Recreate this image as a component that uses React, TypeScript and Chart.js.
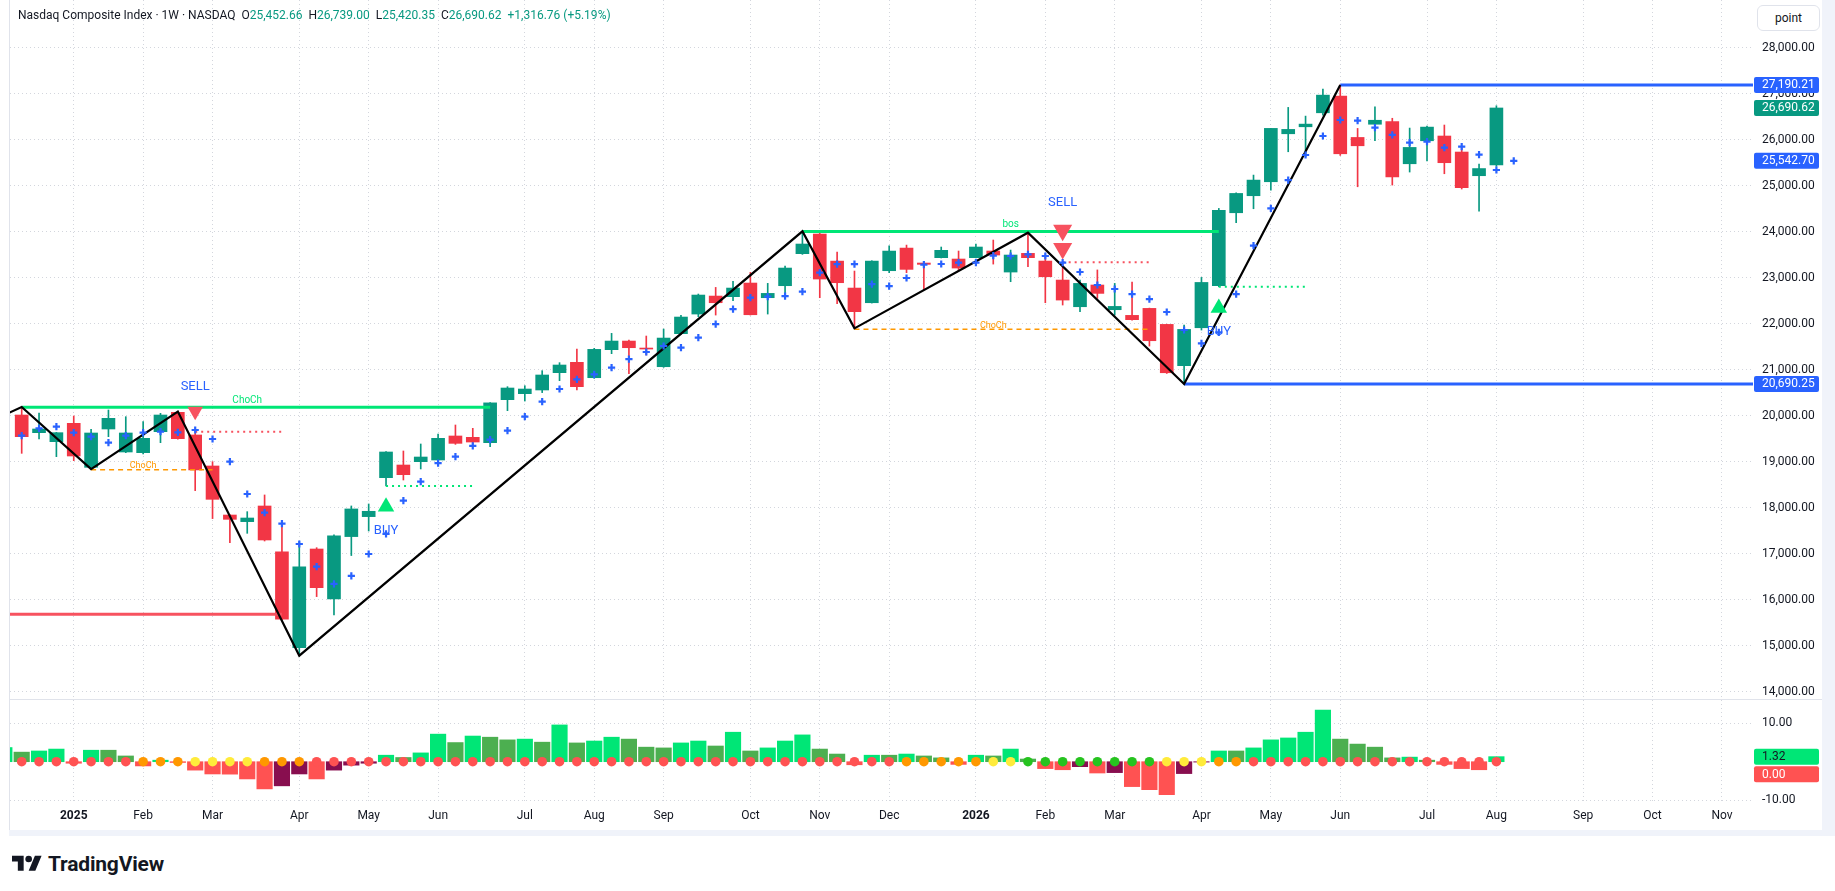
import React, { useEffect, useRef } from 'react';
import { Chart, registerables } from 'chart.js';

Chart.register(...registerables);

const FONT = 'Roboto, "Noto Sans", "DejaVu Sans", sans-serif';
const TEXT = '#131722';
const UP = '#089981';
const DOWN = '#f23645';
const BLUE = '#2962ff';
const LINE_GREEN = '#00e676';
const LINE_RED = '#f7525f';
const ORANGE = '#ff9800';
const GRID = '#d3d6dd';

// ---- weekly candles (index 0 = first visible week) ----
const candleOpen = [
  20016, 19632, 19436, 19835, 18879, 19712, 19212, 19197, 19654, 20074,
  19582, 18908, 17842, 17698, 18038, 17041, 14960, 17103, 16017, 17373,
  17807, 18654, 18929, 19002, 19038, 19560, 19531, 19415, 20350, 20480,
  20560, 20936, 21161, 20827, 21436, 21624, 21472, 21066, 21784, 22211,
  22602, 22588, 22885, 22566, 22827, 23523, 23950, 23362, 22776, 22457,
  23153, 23645, 23320, 23436, 23407, 23436, 23581, 23124, 23530, 23363,
  22950, 22370, 22842, 22305, 22182, 22334, 21986, 21088, 21913, 22826,
  24413, 24783, 25087, 26130, 26282, 26586, 26949, 26050, 26337, 26395,
  25478, 25978, 26081, 25733, 25218, 25452.66,
];
const candleHigh = [
  20190, 20060, 19640, 19995, 19705, 20125, 19980, 19871, 20053, 20090,
  19620, 19002, 17850, 17915, 18278, 17647, 17264, 17132, 17409, 18039,
  18082, 19220, 19234, 19386, 19603, 19799, 19727, 20285, 20632, 20653,
  20980, 21154, 21451, 21466, 21791, 21646, 21733, 21885, 22182, 22646,
  22790, 22921, 23117, 22878, 23255, 24010, 23979, 23558, 23146, 23370,
  23696, 23710, 23330, 23668, 23581, 23733, 23820, 23602, 23980, 23494,
  23349, 22950, 23170, 22877, 22906, 22340, 21990, 21972, 23007, 24507,
  24848, 25232, 26250, 26703, 26514, 27100, 27190.21, 26246, 26717, 26467,
  26254, 26297, 26320, 25813, 25472, 26739.0,
];
const candleLow = [
  19183, 19495, 19111, 19024, 18840, 19545, 19197, 19168, 19415, 19490,
  18372, 17764, 17241, 17444, 17277, 15563, 14784, 16068, 15670, 16961,
  17495, 18474, 18603, 18843, 19002, 19378, 19378, 19328, 20110, 20320,
  20503, 20763, 20560, 20812, 21349, 20913, 21320, 21052, 21770, 22153,
  22189, 22501, 22190, 22211, 22646, 23508, 22566, 22435, 21900, 22450,
  23110, 23110, 22748, 23430, 23153, 23430, 23297, 22914, 23240, 22457,
  22407, 22262, 22552, 22188, 22080, 21515, 20920, 20690.25, 21863, 22804,
  24196, 24500, 24906, 25739, 25630, 26535, 25659, 24978, 25978, 25015,
  25298, 25538, 25261, 24929, 24450, 25420.35,
];
const candleClose = [
  19545, 19712, 19632, 19125, 19625, 19944, 19625, 19509, 20016, 19502,
  18822, 18183, 17748, 17777, 17299, 15578, 16713, 16263, 17387, 17974,
  17923, 19212, 18719, 19103, 19509, 19400, 19429, 20280, 20603, 20581,
  20886, 21103, 20632, 21443, 21624, 21479, 21450, 21689, 22146, 22624,
  22457, 22776, 22196, 22660, 23211, 23733, 22972, 22892, 22262, 23362,
  23580, 23182, 23291, 23596, 23211, 23668, 23494, 23494, 23436, 23022,
  22515, 22877, 22660, 22377, 22088, 21631, 20935, 21877, 22898, 24464,
  24833, 25123, 26247, 26225, 26340, 26970, 25695, 25869, 26424, 25192,
  25833, 26275, 25501, 24958, 25373.86, 26690.62,
];

// ---- blue "+" trailing stop (one more point than candles) ----
const sarValues = [
  19567, 19726, 19763, 19632, 19545, 19415, 19567, 19632, 19654, 19639,
  19690, 19495, 19002, 18299, 17893, 17654, 17212, 16720, 16343, 16517,
  16995, 17430, 18154, 18567, 18970, 19111, 19346, 19480, 19676, 19980,
  20306, 20581, 20791, 20900, 21045, 21233, 21386, 21516, 21480, 21697,
  21994, 22320, 22566, 22588, 22602, 22697, 23110, 23298, 23298, 22863,
  22819, 22994, 23287, 23299, 23328, 23328, 23480, 23473, 23509, 23473,
  23328, 23125, 22842, 22755, 22646, 22537, 22255, 21864, 21574, 21813,
  22646, 23697, 24508, 25124, 25668, 26081, 26429, 26415, 26263, 26104,
  25937, 25958, 25828, 25849, 25675, 25342, 25542.7,
];

// ---- lower pane oscillator (starts one week before first candle) ----
const histStartIndex = -1;
const histValues = [
  3.7,
  2.5, 2.8, 3.3, -0.4, 3.0, 3.0, 1.5, -1.1, 0.4, -0.2,
  -2.2, -3.2, -3.25, -4.5, -7.1, -6.3, -3.2, -4.5, -2.2, -0.9,
  -0.4, 1.7, 1.1, 2.3, 7.2, 5.0, 6.7, 6.4, 5.7, 5.9,
  5.1, 9.6, 4.9, 5.4, 6.4, 5.9, 3.8, 3.6, 4.9, 5.4,
  4.1, 7.7, 2.8, 3.6, 5.4, 7.0, 3.3, 2.0, -0.8, 1.7,
  1.7, 2.0, 1.5, 1.0, -0.7, 1.7, 1.5, 3.3, 0.7, -1.8,
  -2.1, -1.3, -2.95, -2.85, -6.5, -7.3, -8.6, -3.1, -0.1, 2.8,
  2.8, 3.6, 5.7, 6.2, 7.7, 13.5, 5.9, 4.6, 3.8, 1.0,
  1.2, 0.4, -0.7, -1.8, -2.1, 1.32,
];
// squeeze state dots on the zero line: R red, O orange, Y yellow, G green
const dotStates = [
  'R', 'R', 'R', 'R', 'R', 'R', 'R', 'O', 'O', 'O',
  'Y', 'Y', 'Y', 'Y', 'O', 'O', 'O', 'R', 'R', 'R',
  'R', 'R', 'R', 'R', 'R', 'R', 'R', 'R', 'R', 'R',
  'R', 'R', 'R', 'R', 'R', 'R', 'R', 'R', 'R', 'R',
  'R', 'R', 'R', 'R', 'R', 'R', 'R', 'R', 'R', 'R',
  'R', 'O', 'O', 'O', 'O', 'O', 'Y', 'Y', 'G', 'G',
  'G', 'G', 'G', 'G', 'G', 'G', 'Y', 'Y', 'Y', 'O',
  'O', 'R', 'R', 'R', 'R', 'R', 'R', 'R', 'R', 'R',
  'R', 'R', 'R', 'R', 'R', 'R',
];
const dotLevel = 0;

// ---- zigzag pivots ----
const zigzagIdx = [-2, 0, 4, 9, 16, 45, 48, 58, 67, 76];
const zigzagPrice = [19846, 20190, 18840, 20090, 14784, 24010, 21900, 23980, 20690.25, 27190.21];

// ---- structure levels ----
const greenLevelFrom = [0, 45];
const greenLevelTo = [27, 69];
const greenLevelPrice = [20183, 24008];
const greenLevelTag = ['ChoCh', 'bos'];
const greenLevelTagIdx = [13, 57];

const orangeLevelFrom = [4, 48];
const orangeLevelTo = [11, 65];
const orangeLevelPrice = [18825, 21878];
const orangeLevelTag = ['ChoCh', 'ChoCh'];
const orangeLevelTagIdx = [7, 56];

const redDotFrom = [10, 60];
const redDotTo = [15, 65];
const redDotPrice = [19654, 23335];

const greenDotFrom = [21, 69];
const greenDotTo = [26, 74];
const greenDotPrice = [18474, 22804];

const redLevelFrom = [-1];
const redLevelTo = [15];
const redLevelPrice = [15683];

const blueLevelFrom = [76, 67];
const blueLevelTo = [100, 100];
const blueLevelPrice = [27190.21, 20690.25];

// ---- signals ----
const sellIdx = [10, 60, 60];
const sellPrice = [20100, 24030, 23636];
const buyIdx = [21, 69];
const buyPrice = [18023, 22342];
const sellTextIdx = [10, 60];
const sellTextPrice = [20632, 24632];
const buyTextIdx = [21, 69];
const buyTextPrice = [17501, 21827];

// ---- axes ----
const monthTickIdx = [3, 7, 11, 16, 20, 24, 29, 33, 37, 42, 46, 50, 55, 59, 63, 68, 72, 76, 81, 85, 90, 94, 98];
const monthTickLabels = ['2025', 'Feb', 'Mar', 'Apr', 'May', 'Jun', 'Jul', 'Aug', 'Sep', 'Oct', 'Nov', 'Dec',
  '2026', 'Feb', 'Mar', 'Apr', 'May', 'Jun', 'Jul', 'Aug', 'Sep', 'Oct', 'Nov'];
const priceTicks = [14000, 15000, 16000, 17000, 18000, 19000, 20000, 21000, 22000, 23000, 24000, 25000, 26000, 27000, 28000];
const oscTicks = [-10, 10];

// layout constants (pixels of the 1812x830 canvas)
const X_MIN = -0.674;
const X_MAX = 99.79;
const Y_MIN = 13842.4;
const Y_MAX = 29038;
const Y2_MIN = -10.78;
const Y2_MAX = 16.37;
const AXIS_W = 69;

const fmt = (v: number) => v.toLocaleString('en-US', { minimumFractionDigits: 2, maximumFractionDigits: 2 });
const signed = (v: number) => (v >= 0 ? '+' : '-') + fmt(Math.abs(v));

const DOT_COLORS: Record<string, string> = { R: '#ff5252', O: '#ff9800', Y: '#ffeb3b', G: '#26c31f' };

function zeroPad(s: any) {
  s.paddingLeft = 0;
  s.paddingRight = 0;
  s.paddingTop = 0;
  s.paddingBottom = 0;
}

export default function App() {
  const canvasRef = useRef<HTMLCanvasElement | null>(null);
  const last = candleOpen.length - 1;
  const lastOpen = candleOpen[last];
  const lastHigh = candleHigh[last];
  const lastLow = candleLow[last];
  const lastClose = candleClose[last];
  const change = lastClose - candleClose[last - 1];
  const changePct = (change / candleClose[last - 1]) * 100;
  const valColor = lastClose >= lastOpen ? UP : DOWN;

  useEffect(() => {
    const canvas = canvasRef.current;
    if (!canvas) return;
    const idx = candleOpen.map((_, i) => i);
    const candleColors = idx.map((i) => (candleClose[i] >= candleOpen[i] ? UP : DOWN));
    const histColors = histValues.map((v, k) => {
      const prev = k > 0 ? histValues[k - 1] : v - 1;
      if (v >= 0) return v > prev ? '#00e676' : '#4caf50';
      return v < prev ? '#ff5252' : '#880e4f';
    });
    const seg = (from: number, to: number, v: number) => [
      { x: from, y: v },
      { x: to, y: v },
    ];
    const lineDs = (data: any[], color: string, width: number, dash: number[], order: number) => ({
      type: 'line',
      data,
      borderColor: color,
      borderWidth: width,
      borderDash: dash,
      pointRadius: 0,
      fill: false,
      tension: 0,
      order,
      yAxisID: 'y',
      xAxisID: 'x',
    });

    const datasets: any[] = [
      {
        type: 'bar',
        data: idx.map((i) => ({ x: i, y: [candleLow[i], candleHigh[i]] })),
        backgroundColor: candleColors,
        barThickness: 1,
        grouped: false,
        order: 30,
        yAxisID: 'y',
      },
      {
        type: 'bar',
        data: idx.map((i) => ({ x: i, y: [candleOpen[i], candleClose[i]] })),
        backgroundColor: candleColors,
        barThickness: 13,
        minBarLength: 1,
        grouped: false,
        order: 29,
        yAxisID: 'y',
      },
      {
        type: 'bar',
        data: histValues.map((v, k) => ({ x: histStartIndex + k, y: v })),
        backgroundColor: histColors,
        barThickness: 15.5,
        grouped: false,
        order: 28,
        yAxisID: 'y2',
      },
      {
        type: 'line',
        data: dotStates.map((_, i) => ({ x: i, y: dotLevel })),
        showLine: false,
        pointRadius: 4.8,
        pointBackgroundColor: dotStates.map((s) => DOT_COLORS[s]),
        pointBorderWidth: 0,
        order: 27,
        yAxisID: 'y2',
      },
    ];
    greenLevelFrom.forEach((f, k) => datasets.push(lineDs(seg(f, greenLevelTo[k], greenLevelPrice[k]), LINE_GREEN, 3, [], 20)));
    orangeLevelFrom.forEach((f, k) => datasets.push(lineDs(seg(f, orangeLevelTo[k], orangeLevelPrice[k]), ORANGE, 1.5, [5, 4], 20)));
    redDotFrom.forEach((f, k) => datasets.push(lineDs(seg(f, redDotTo[k], redDotPrice[k]), LINE_RED, 2, [2, 4], 20)));
    greenDotFrom.forEach((f, k) => datasets.push(lineDs(seg(f, greenDotTo[k], greenDotPrice[k]), LINE_GREEN, 2, [2, 4], 20)));
    redLevelFrom.forEach((f, k) => datasets.push(lineDs(seg(f, redLevelTo[k], redLevelPrice[k]), LINE_RED, 3, [], 20)));
    blueLevelFrom.forEach((f, k) => datasets.push(lineDs(seg(f, blueLevelTo[k], blueLevelPrice[k]), BLUE, 3, [], 20)));
    datasets.push(lineDs(zigzagIdx.map((x, k) => ({ x, y: zigzagPrice[k] })), '#000000', 2.2, [], 10));
    datasets.push({
      type: 'line',
      data: sarValues.map((v, i) => ({ x: i, y: v })),
      showLine: false,
      pointStyle: 'cross',
      pointRadius: 3.6,
      pointBorderWidth: 2.2,
      pointBorderColor: BLUE,
      order: 5,
      yAxisID: 'y',
    });
    datasets.push({
      type: 'line',
      data: sellIdx.map((x, k) => ({ x, y: sellPrice[k] })),
      showLine: false,
      pointStyle: 'triangle',
      pointRotation: 180,
      pointRadius: (c: any) => (c.dataIndex === 0 ? 9 : 11),
      pointBackgroundColor: LINE_RED,
      pointBorderWidth: 0,
      order: 3,
      yAxisID: 'y',
    });
    datasets.push({
      type: 'line',
      data: buyIdx.map((x, k) => ({ x, y: buyPrice[k] })),
      showLine: false,
      pointStyle: 'triangle',
      pointRadius: 9.5,
      pointBackgroundColor: LINE_GREEN,
      pointBorderWidth: 0,
      order: 3,
      yAxisID: 'y',
    });

    const overlay = {
      id: 'overlay',
      afterDatasetsDraw(chart: any) {
        const { ctx, chartArea } = chart;
        const xs = chart.scales.x;
        const ys = chart.scales.y;
        ctx.save();
        ctx.beginPath();
        ctx.rect(chartArea.left, ys.top, chartArea.right - chartArea.left, ys.bottom - ys.top);
        ctx.clip();
        ctx.textAlign = 'center';
        ctx.textBaseline = 'middle';
        ctx.font = `10px ${FONT}`;
        ctx.fillStyle = LINE_GREEN;
        greenLevelTag.forEach((t, k) => {
          ctx.fillText(t, xs.getPixelForValue(greenLevelTagIdx[k]), ys.getPixelForValue(greenLevelPrice[k]) - 7);
        });
        ctx.font = `9px ${FONT}`;
        ctx.fillStyle = ORANGE;
        orangeLevelTag.forEach((t, k) => {
          ctx.fillText(t, xs.getPixelForValue(orangeLevelTagIdx[k]), ys.getPixelForValue(orangeLevelPrice[k]) - 4);
        });
        ctx.font = `13px ${FONT}`;
        ctx.fillStyle = BLUE;
        sellTextIdx.forEach((i, k) => ctx.fillText('SELL', xs.getPixelForValue(i), ys.getPixelForValue(sellTextPrice[k])));
        buyTextIdx.forEach((i, k) => ctx.fillText('BUY', xs.getPixelForValue(i), ys.getPixelForValue(buyTextPrice[k])));
        ctx.restore();
      },
      afterDraw(chart: any) {
        const { ctx, chartArea } = chart;
        const ys = chart.scales.y;
        const y2 = chart.scales.y2;
        ctx.save();
        ctx.fillStyle = '#e0e3eb';
        ctx.fillRect(0, Math.round(ys.bottom), chart.width, 1);
        const drawBoxes = (scale: any, items: any[]) => {
          let prevBottom = -Infinity;
          items
            .map((it) => ({ ...it, py: scale.getPixelForValue(it.value) }))
            .sort((a, b) => a.py - b.py)
            .forEach((it) => {
              const h = 16;
              let cy = it.py;
              if (cy - h / 2 < prevBottom + 1.5) cy = prevBottom + 1.5 + h / 2;
              prevBottom = cy + h / 2;
              const left = chartArea.right + 1;
              ctx.fillStyle = it.bg;
              ctx.beginPath();
              ctx.roundRect(left, cy - h / 2, 65, h, 2);
              ctx.fill();
              ctx.fillStyle = it.fg;
              ctx.font = `12px ${FONT}`;
              ctx.textAlign = 'left';
              ctx.textBaseline = 'middle';
              ctx.fillText(fmt(it.value), left + 8, cy + 0.5);
            });
        };
        drawBoxes(ys, [
          { value: blueLevelPrice[0], bg: BLUE, fg: '#ffffff' },
          { value: candleClose[candleClose.length - 1], bg: UP, fg: '#ffffff' },
          { value: sarValues[sarValues.length - 1], bg: BLUE, fg: '#ffffff' },
          { value: blueLevelPrice[1], bg: BLUE, fg: '#ffffff' },
        ]);
        drawBoxes(y2, [
          { value: histValues[histValues.length - 1], bg: '#00e676', fg: TEXT },
          { value: dotLevel, bg: '#ff5252', fg: '#ffffff' },
        ]);
        ctx.restore();
      },
    };

    const gridOpts = { color: GRID, lineWidth: 1, drawTicks: false, offset: false };
    const borderOpts = { display: false, dash: [1, 3] };

    const chart = new Chart(canvas, {
      type: 'bar',
      data: { datasets },
      plugins: [overlay],
      options: {
        animation: false,
        responsive: false,
        maintainAspectRatio: false,
        events: [],
        layout: { padding: 0, autoPadding: false },
        plugins: { legend: { display: false }, tooltip: { enabled: false } },
        scales: {
          x: {
            type: 'linear',
            position: 'bottom',
            min: X_MIN,
            max: X_MAX,
            offset: false,
            grid: gridOpts,
            border: borderOpts,
            ticks: {
              autoSkip: false,
              maxRotation: 0,
              padding: 6,
              color: TEXT,
              font: (c: any) => {
                const k = monthTickIdx.indexOf(c.tick ? c.tick.value : -999);
                const isYear = k >= 0 && /^\d{4}$/.test(monthTickLabels[k]);
                return { family: FONT, size: 12, weight: isYear ? 'bold' : 'normal' };
              },
              callback: (v: any) => {
                const k = monthTickIdx.indexOf(Number(v));
                return k >= 0 ? monthTickLabels[k] : '';
              },
            },
            afterBuildTicks: (s: any) => {
              s.ticks = monthTickIdx.map((v) => ({ value: v }));
            },
            afterFit: (s: any) => {
              s.height = 27;
              zeroPad(s);
            },
          },
          y: {
            type: 'linear',
            position: 'right',
            stack: 'panes',
            stackWeight: 699,
            min: Y_MIN,
            max: Y_MAX,
            beginAtZero: false,
            grid: gridOpts,
            border: borderOpts,
            ticks: {
              padding: 9,
              color: TEXT,
              font: { family: FONT, size: 12 },
              callback: (v: any) => fmt(Number(v)),
            },
            afterBuildTicks: (s: any) => {
              s.ticks = priceTicks.map((v) => ({ value: v }));
            },
            afterFit: (s: any) => {
              s.width = AXIS_W;
              zeroPad(s);
            },
          },
          y2: {
            type: 'linear',
            position: 'right',
            stack: 'panes',
            stackWeight: 104,
            min: Y2_MIN,
            max: Y2_MAX,
            beginAtZero: false,
            grid: gridOpts,
            border: borderOpts,
            ticks: {
              padding: 9,
              color: TEXT,
              font: { family: FONT, size: 12 },
              callback: (v: any) => fmt(Number(v)),
            },
            afterBuildTicks: (s: any) => {
              s.ticks = oscTicks.map((v) => ({ value: v }));
            },
            afterFit: (s: any) => {
              s.width = AXIS_W;
              zeroPad(s);
            },
          },
        },
      } as any,
    } as any);
    return () => chart.destroy();
  }, []);

  const seg = (label: string, value: string) => (
    <span style={{ marginLeft: 6 }}>
      {label}
      <span style={{ color: valColor }}>{value}</span>
    </span>
  );

  return (
    <div
      style={{
        position: 'fixed',
        left: 0,
        top: 0,
        width: 1835,
        height: 891,
        background: '#ffffff',
        overflow: 'hidden',
        fontFamily: FONT,
      }}
    >
      <div style={{ position: 'absolute', left: 10, top: 0, width: 1812, height: 830 }}>
        <canvas ref={canvasRef} width={1812} height={830} style={{ display: 'block', width: 1812, height: 830 }} />
      </div>
      <div style={{ position: 'absolute', left: 9, top: 0, width: 1, height: 831, background: '#e0e3eb' }} />
      <div style={{ position: 'absolute', left: 1822, top: 0, width: 13, height: 836, background: '#f0f3fa' }} />
      <div style={{ position: 'absolute', left: 9, top: 830, width: 1826, height: 6, background: '#f0f3fa' }} />
      <div
        style={{
          position: 'absolute',
          left: 18,
          top: 7,
          fontSize: 12,
          lineHeight: '16px',
          color: TEXT,
          whiteSpace: 'nowrap',
        }}
      >
        <span>Nasdaq Composite Index · 1W · NASDAQ</span>
        {seg('O', fmt(lastOpen))}
        {seg('H', fmt(lastHigh))}
        {seg('L', fmt(lastLow))}
        {seg('C', fmt(lastClose))}
        <span style={{ marginLeft: 6, color: valColor }}>
          {signed(change)} ({signed(changePct)}%)
        </span>
      </div>
      <div
        style={{
          position: 'absolute',
          left: 1757,
          top: 5,
          width: 63,
          height: 26,
          boxSizing: 'border-box',
          border: '1px solid #e0e3eb',
          borderRadius: 6,
          background: '#ffffff',
          display: 'flex',
          alignItems: 'center',
          justifyContent: 'center',
          fontSize: 12,
          color: TEXT,
        }}
      >
        point
      </div>
      <div style={{ position: 'absolute', left: 12, top: 852, display: 'flex', alignItems: 'center', gap: 6 }}>
        <svg width="30" height="24" viewBox="0 0 36 28">
          <path d="M14 22H7V11H0V4h14v18zM28 22h-8l7.5-18h8L28 22z" fill="#131722" />
          <circle cx="20" cy="8" r="4" fill="#131722" />
        </svg>
        <span style={{ fontWeight: 700, fontSize: 21, color: '#131722', letterSpacing: -0.2 }}>TradingView</span>
      </div>
    </div>
  );
}
